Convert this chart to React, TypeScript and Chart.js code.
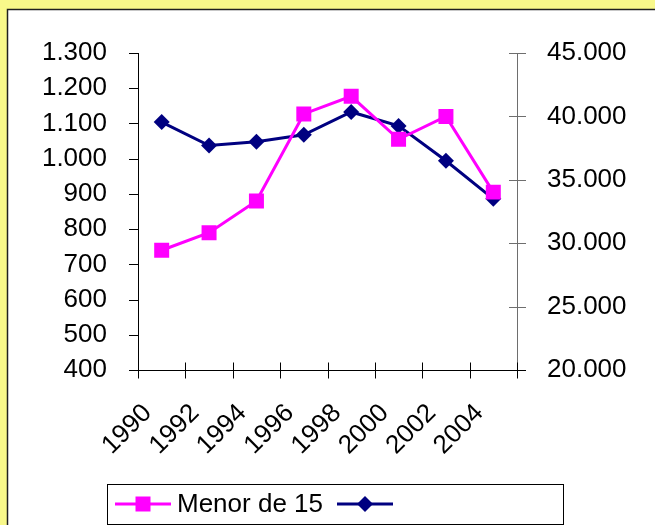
import React, { useEffect, useRef } from 'react';
import { Chart, registerables } from 'chart.js';

Chart.register(...registerables);

const years = ['1990', '1992', '1994', '1996', '1998', '2000', '2002', '2004'];
const menorDe15 = [740, 790, 880, 1127, 1177, 1055, 1120, 905];
const secondSeries = [39550, 37700, 38000, 38550, 40350, 39250, 36500, 33500];
const seriesLabels = ['Menor de 15', ''];
const leftAxis = { min: 400, max: 1300, step: 100 };
const rightAxis = { min: 20000, max: 45000, step: 5000 };

const PINK = '#FF00FF';
const NAVY = '#000080';
const YELLOW = '#F8F88A';
const FONT = "'Liberation Sans', Arial, sans-serif";
const FS = 26;

const fmt = (v: number) => String(Math.round(v)).replace(/\B(?=(\d{3})+(?!\d))/g, '.');

const framePlugin = {
  id: 'frame',
  beforeDraw(chart: any) {
    const { ctx, width, height } = chart;
    ctx.save();
    ctx.fillStyle = YELLOW;
    ctx.fillRect(0, 0, width, height);
    ctx.fillStyle = '#FFFFFF';
    ctx.fillRect(7, 9, width, height);
    ctx.strokeStyle = '#202020';
    ctx.lineWidth = 1.5;
    ctx.strokeRect(7.5, 9.5, width + 10, height + 10);
    ctx.restore();
  },
};

const axesPlugin = {
  id: 'axesTicks',
  afterDatasetsDraw(chart: any) {
    const { ctx, chartArea } = chart;
    const x = chart.scales.x;
    const yL = chart.scales.y;
    const yR = chart.scales.y1;
    ctx.save();
    ctx.lineWidth = 1;
    ctx.strokeStyle = '#000000';
    ctx.beginPath();
    ctx.moveTo(chartArea.left + 0.5, chartArea.top);
    ctx.lineTo(chartArea.left + 0.5, chartArea.bottom);
    yL.ticks.forEach((t: any) => {
      const py = Math.round(yL.getPixelForValue(t.value)) + 0.5;
      ctx.moveTo(chartArea.left - 9, py);
      ctx.lineTo(chartArea.left, py);
    });
    ctx.stroke();
    ctx.strokeStyle = '#6E6E6E';
    ctx.beginPath();
    ctx.moveTo(chartArea.right + 0.5, chartArea.top);
    ctx.lineTo(chartArea.right + 0.5, chartArea.bottom);
    yR.ticks.forEach((t: any) => {
      const py = Math.round(yR.getPixelForValue(t.value)) + 0.5;
      ctx.moveTo(chartArea.right - 8, py);
      ctx.lineTo(chartArea.right + 9, py);
    });
    ctx.stroke();
    ctx.strokeStyle = '#000000';
    ctx.beginPath();
    const by = Math.round(chartArea.bottom) + 0.5;
    ctx.moveTo(chartArea.left - 9, by);
    ctx.lineTo(chartArea.right + 9, by);
    const n = years.length;
    const step = x.getPixelForValue(1) - x.getPixelForValue(0);
    for (let i = 0; i <= n; i++) {
      const px = Math.round(x.getPixelForValue(0) - step / 2 + i * step) + 0.5;
      ctx.moveTo(px, by - 8);
      ctx.lineTo(px, by + 8);
    }
    ctx.stroke();
    ctx.restore();
  },
};

const legendPlugin = {
  id: 'customLegend',
  afterDraw(chart: any) {
    const { ctx } = chart;
    const ds = chart.data.datasets;
    ctx.save();
    ctx.strokeStyle = '#000000';
    ctx.lineWidth = 1;
    ctx.strokeRect(107.5, 484.5, 456, 40);
    const cy = 504;
    const items = [
      { x0: 115, x1: 171, ds: ds[0] },
      { x0: 337, x1: 393, ds: ds[1] },
    ];
    items.forEach((it, idx) => {
      ctx.strokeStyle = it.ds.borderColor;
      ctx.fillStyle = it.ds.backgroundColor;
      ctx.lineWidth = 3;
      ctx.beginPath();
      ctx.moveTo(it.x0, cy);
      ctx.lineTo(it.x1, cy);
      ctx.stroke();
      const cx = (it.x0 + it.x1) / 2;
      ctx.beginPath();
      if (idx === 0) {
        ctx.rect(cx - 7.5, cy - 7.5, 15, 15);
      } else {
        ctx.moveTo(cx - 8, cy);
        ctx.lineTo(cx, cy - 8);
        ctx.lineTo(cx + 8, cy);
        ctx.lineTo(cx, cy + 8);
        ctx.closePath();
      }
      ctx.fill();
      if (it.ds.label) {
        ctx.fillStyle = '#000000';
        ctx.font = `${FS}px ${FONT}`;
        ctx.textBaseline = 'middle';
        ctx.textAlign = 'left';
        ctx.fillText(it.ds.label, it.x1 + 6, cy + 1);
      }
    });
    ctx.restore();
  },
};

export default function App() {
  const ref = useRef<HTMLCanvasElement | null>(null);
  useEffect(() => {
    if (!ref.current) return;
    const chart = new Chart(ref.current, {
      type: 'line',
      data: {
        labels: years,
        datasets: [
          {
            label: seriesLabels[0],
            data: menorDe15,
            yAxisID: 'y',
            borderColor: PINK,
            backgroundColor: PINK,
            borderWidth: 3,
            pointStyle: 'rect',
            pointRadius: 10.6,
            pointBorderWidth: 0,
            tension: 0,
          },
          {
            label: seriesLabels[1],
            data: secondSeries,
            yAxisID: 'y1',
            borderColor: NAVY,
            backgroundColor: NAVY,
            borderWidth: 3,
            pointStyle: 'rectRot',
            pointRadius: 8,
            pointBorderWidth: 0,
            tension: 0,
          },
        ],
      },
      options: {
        responsive: false,
        animation: false,
        layout: { padding: { top: 53, left: 0, right: 0, bottom: 0 } },
        plugins: { legend: { display: false }, tooltip: { enabled: false } },
        scales: {
          x: {
            type: 'category',
            offset: true,
            grid: { display: false, drawTicks: false },
            border: { display: false },
            ticks: {
              color: '#000000',
              font: { family: FONT, size: FS },
              minRotation: 45,
              maxRotation: 45,
              padding: 28,
              labelOffset: -14,
              autoSkip: false,
            },
            afterFit(s: any) { s.height = 155; },
          },
          y: {
            position: 'left',
            min: leftAxis.min,
            max: leftAxis.max,
            grid: { display: false, drawTicks: false },
            border: { display: false },
            ticks: {
              stepSize: leftAxis.step,
              color: '#000000',
              font: { family: FONT, size: FS },
              padding: 31,
              callback: (v: any) => fmt(Number(v)),
            },
            afterFit(s: any) { s.width = 138; },
          },
          y1: {
            position: 'right',
            min: rightAxis.min,
            max: rightAxis.max,
            grid: { display: false, drawTicks: false },
            border: { display: false },
            ticks: {
              stepSize: rightAxis.step,
              color: '#000000',
              font: { family: FONT, size: FS },
              padding: 30,
              callback: (v: any) => fmt(Number(v)),
            },
            afterFit(s: any) { s.width = 138; },
          },
        },
      } as any,
      plugins: [framePlugin, axesPlugin, legendPlugin],
    });
    return () => chart.destroy();
  }, []);
  return (
    <div style={{ position: 'absolute', left: 0, top: 0, width: 655, height: 525 }}>
      <canvas ref={ref} width={655} height={525} style={{ display: 'block' }} />
    </div>
  );
}
